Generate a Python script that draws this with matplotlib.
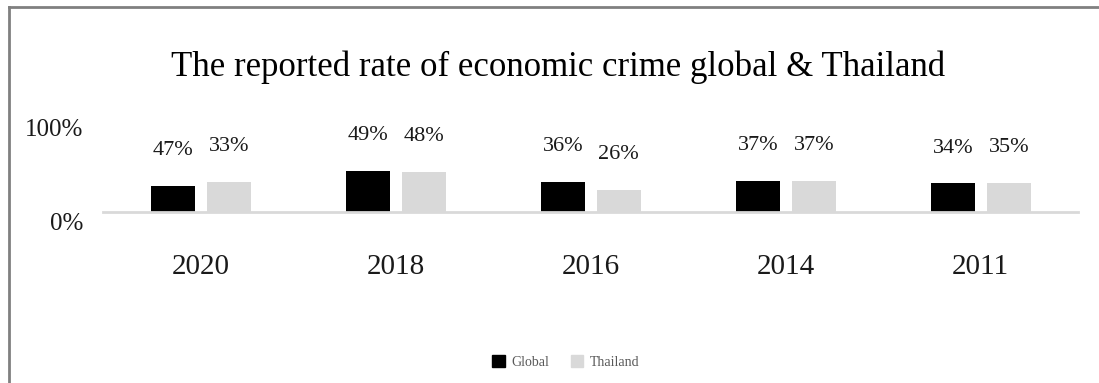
import matplotlib.pyplot as plt
from matplotlib.lines import Line2D
from matplotlib.transforms import ScaledTranslation
import numpy as np

years = ['2020', '2018', '2016', '2014', '2011']
global_rate = [31, 49, 36, 37, 34]
thailand_rate = [36, 48, 26, 37, 35]
# labels as printed in the source chart
global_labels = ['47%', '49%', '36%', '37%', '34%']
thailand_labels = ['33%', '48%', '26%', '37%', '35%']

plt.rcParams['font.family'] = ['Liberation Serif', 'DejaVu Serif']

fig = plt.figure(figsize=(10.99, 3.83), dpi=100)
ax = fig.add_axes([103 / 1099, 171 / 383, 975 / 1099, 84 / 383])

x = np.arange(len(years))
w = 0.225
ax.bar(x - 0.142, global_rate, w, color='black')
ax.bar(x + 0.145, thailand_rate, w, color='#d9d9d9')

for i in range(len(years)):
    ax.text(x[i] - 0.142, global_rate[i] + 42, global_labels[i],
            ha='center', va='center', fontsize=16, color='#1a1a1a')
    ax.text(x[i] + 0.145, thailand_rate[i] + 42, thailand_labels[i],
            ha='center', va='center', fontsize=16, color='#1a1a1a')

ax.set_xlim(-0.5, 4.5)
ax.set_ylim(0, 100)
ax.set_yticks([0, 100])
ax.set_yticklabels(['0%', '100%'], fontsize=18, color='#1a1a1a')
ax.set_xticks(x)
ax.set_xticklabels(years, fontsize=21, color='#1a1a1a')
ax.tick_params(length=0)
ax.tick_params(axis='y', pad=14)
ax.tick_params(axis='x', pad=30)
# the 0% label sits a bit below the axis line in the source
lbl0 = ax.get_yticklabels()[0]
lbl0.set_transform(lbl0.get_transform() + ScaledTranslation(0, -10 / 100, fig.dpi_scale_trans))
for s in ['top', 'right', 'left']:
    ax.spines[s].set_visible(False)
ax.spines['bottom'].set_color('#d9d9d9')
ax.spines['bottom'].set_linewidth(2)

fig.text(0.508, 0.825, 'The reported rate of economic crime global & Thailand',
         ha='center', va='center', fontsize=25)

handles = [plt.Rectangle((0, 0), 1, 1, color='black'),
           plt.Rectangle((0, 0), 1, 1, color='#d9d9d9')]
fig.legend(handles, ['Global', 'Thailand'], loc='center', bbox_to_anchor=(0.515, 0.055),
           ncol=2, frameon=False, fontsize=10, handlelength=0.9, handleheight=1.0,
           columnspacing=1.5, handletextpad=0.5, labelcolor='#595959')

fig.add_artist(Line2D([9 / 1099, 9 / 1099], [0, 1 - 7 / 383], transform=fig.transFigure,
                      color='#808080', lw=2))
fig.add_artist(Line2D([9 / 1099, 1], [1 - 7 / 383, 1 - 7 / 383], transform=fig.transFigure,
                      color='#808080', lw=2))

fig.savefig('out.png', dpi=100)
